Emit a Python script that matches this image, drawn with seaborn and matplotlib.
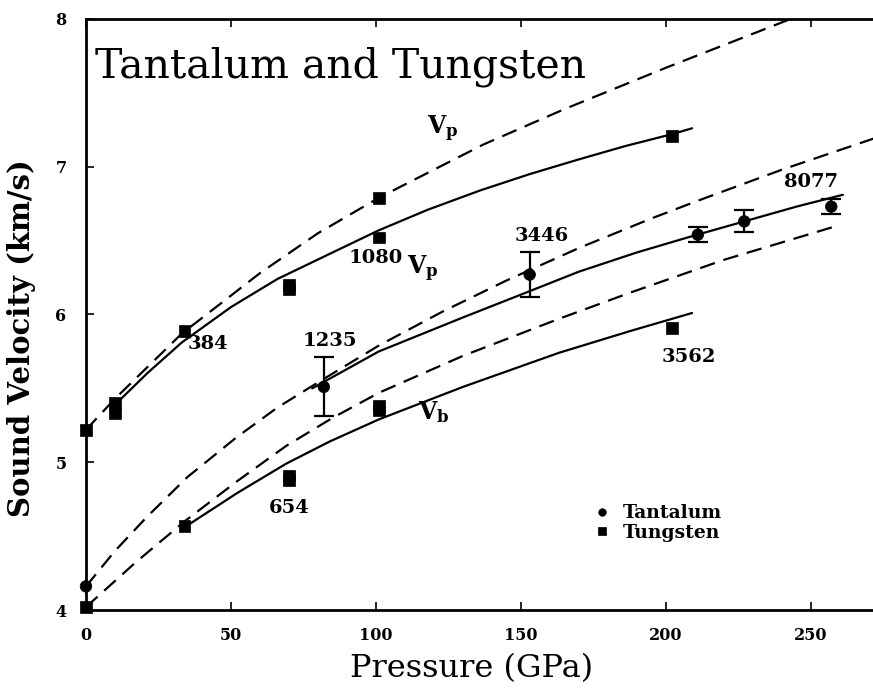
import numpy as np
import pandas as pd
import matplotlib
matplotlib.use("Agg")
import matplotlib.pyplot as plt
import seaborn as sns

# measured points
ta_p = [0, 82, 153, 211, 227, 257]
ta_v = [4.16, 5.51, 6.27, 6.54, 6.63, 6.73]
ta_err = [0, 0.20, 0.15, 0.05, 0.075, 0.05]

w_p = [0, 0, 10, 10, 34, 34, 70, 70, 70, 70, 101, 101, 101, 101, 202, 202]
w_v = [5.22, 4.02, 5.40, 5.33, 5.89, 4.57, 6.17, 6.20, 4.91, 4.88, 6.79, 6.52, 5.38, 5.35, 7.21, 5.91]

# curves
w_vp_fit_p = [9, 21, 33, 50, 66, 84, 101, 118, 136, 153, 170, 186, 202, 209]
w_vp_fit_v = [5.37, 5.60, 5.81, 6.05, 6.24, 6.41, 6.57, 6.71, 6.84, 6.95, 7.05, 7.14, 7.22, 7.26]
w_vp_dash_p = [0, 10, 33, 60, 80, 101, 137, 165, 200, 243]
w_vp_dash_v = [5.22, 5.43, 5.87, 6.28, 6.55, 6.79, 7.15, 7.39, 7.67, 8.0]

ta_vp_fit_p = [78, 101, 130, 152, 170, 190, 209, 227, 245, 261]
ta_vp_fit_v = [5.50, 5.75, 5.98, 6.15, 6.29, 6.42, 6.53, 6.63, 6.73, 6.81]
ta_vp_dash_p = [0, 10, 21, 35, 52, 66, 80, 101, 123, 145, 170, 195, 211, 240, 273]
ta_vp_dash_v = [4.16, 4.40, 4.63, 4.90, 5.17, 5.37, 5.54, 5.79, 6.02, 6.23, 6.45, 6.65, 6.77, 6.98, 7.20]

vb_fit_p = [34, 52, 69, 84, 101, 130, 163, 188, 209]
vb_fit_v = [4.56, 4.79, 4.99, 5.14, 5.29, 5.51, 5.74, 5.89, 6.01]
vb_dash_p = [0, 17, 34, 52, 69, 85, 101, 130, 163, 188, 220, 259]
vb_dash_v = [4.02, 4.32, 4.60, 4.87, 5.11, 5.30, 5.47, 5.72, 5.97, 6.15, 6.37, 6.60]

# shot number labels
shot_labels = ["384", "1080", "1235", "3446", "8077", "654", "3562"]
shot_p = [42, 100, 84, 157, 250, 70, 208]
shot_v = [5.80, 6.38, 5.82, 6.53, 6.90, 4.69, 5.71]

sns.set_style("ticks")
plt.rcParams['font.family'] = ['DejaVu Serif']
plt.rcParams['mathtext.fontset'] = 'dejavuserif'
for k in ["text.color", "axes.labelcolor", "xtick.color", "ytick.color", "axes.edgecolor"]:
    plt.rcParams[k] = "black"

fig = plt.figure(figsize=(8.73, 6.95), dpi=100)
ax = fig.add_axes([0.0985, 0.1223, 0.9015, 0.8504])

dash = (7, 4)
curves = [
    (w_vp_fit_p, w_vp_fit_v, ""),
    (w_vp_dash_p, w_vp_dash_v, dash),
    (ta_vp_fit_p, ta_vp_fit_v, ""),
    (ta_vp_dash_p, ta_vp_dash_v, dash),
    (vb_fit_p, vb_fit_v, ""),
    (vb_dash_p, vb_dash_v, dash),
]
for px, vy, ds in curves:
    d = pd.DataFrame({"p": px, "v": vy})
    sns.lineplot(data=d, x="p", y="v", ax=ax, color="black", lw=1.6,
                 sort=False, estimator=None)
    line = ax.lines[-1]
    if ds:
        line.set_dashes(ds)

pts = pd.DataFrame({
    "p": ta_p + w_p,
    "v": ta_v + w_v,
    "metal": ["Tantalum"] * len(ta_p) + ["Tungsten"] * len(w_p),
})
sns.scatterplot(data=pts, x="p", y="v", hue="metal", style="metal",
                markers={"Tantalum": "o", "Tungsten": "s"},
                palette={"Tantalum": "black", "Tungsten": "black"},
                s=70, edgecolor="black", linewidth=0.5, ax=ax, clip_on=False, zorder=5)

eb_p = [p for p, e in zip(ta_p, ta_err) if e > 0]
eb_v = [v for v, e in zip(ta_v, ta_err) if e > 0]
eb_e = [e for e in ta_err if e > 0]
ax.errorbar(eb_p, eb_v, yerr=eb_e, fmt="none", ecolor="black", elinewidth=1.6,
            capsize=7, capthick=1.6, zorder=4)

for t, x, y in zip(shot_labels, shot_p, shot_v):
    ax.text(x, y, t, fontsize=14, fontweight="bold", ha="center", va="center")

ax.text(123, 7.26, r"V$_\mathbf{p}$", fontsize=17, fontweight="bold", ha="center", va="center")
ax.text(116, 6.31, r"V$_\mathbf{p}$", fontsize=17, fontweight="bold", ha="center", va="center")
ax.text(120, 5.34, r"V$_\mathbf{b}$", fontsize=17, fontweight="bold", ha="center", va="center")

ax.text(3, 7.68, "Tantalum and Tungsten", fontsize=29.5, ha="left", va="center")

h, l = ax.get_legend_handles_labels()
ax.legend(h, l, loc="center left", bbox_to_anchor=(0.622, 0.147), frameon=False,
          handletextpad=0.1, labelspacing=0.1, markerscale=0.65, borderaxespad=0,
          prop={"weight": "bold", "size": 13.5})

ax.set_xlim(0, 271.4)
ax.set_ylim(4, 8)
ax.set_xticks([0, 50, 100, 150, 200, 250])
ax.set_yticks([4, 5, 6, 7, 8])
ax.tick_params(direction="in", length=6, width=1.2, top=True, right=False,
               labelsize=11.5)
ax.tick_params(axis="x", pad=12)
ax.tick_params(axis="y", pad=14)
for lab in ax.get_xticklabels() + ax.get_yticklabels():
    lab.set_fontweight("bold")
for s in ["left", "bottom", "top"]:
    ax.spines[s].set_linewidth(2)
ax.spines["right"].set_visible(False)

ax.set_xlabel("Pressure (GPa)", fontsize=23, labelpad=2)
ax.xaxis.set_label_coords(0.49, -0.072)
ax.set_ylabel("Sound Velocity (km/s)", fontsize=21, fontweight="bold", labelpad=8)
ax.yaxis.set_label_coords(-0.063, 0.46)

fig.savefig("out.png", dpi=100)
